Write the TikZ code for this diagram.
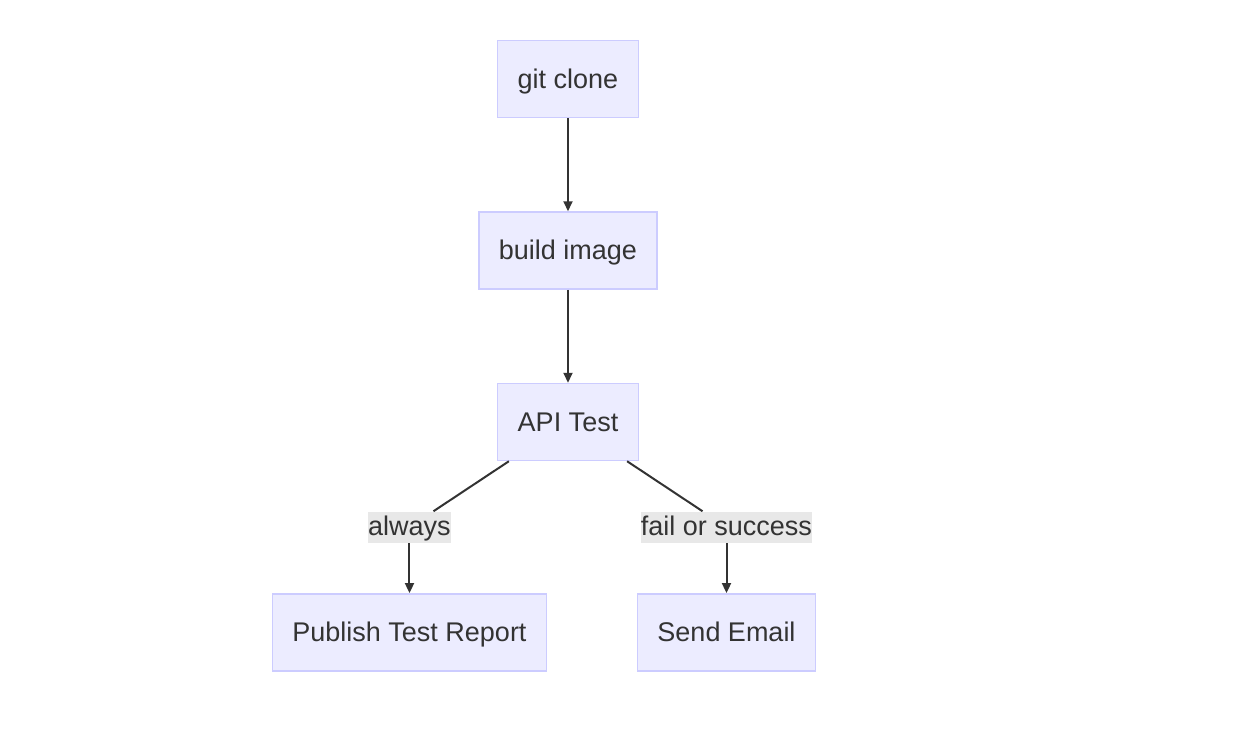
\documentclass[tikz,border=0pt]{standalone}
\usepackage{fontspec}
\setmainfont{Liberation Sans}
\usepackage{xcolor}
\usepackage{tikz}
\usetikzlibrary{arrows.meta, positioning}
\definecolor{nodefill}{HTML}{ECECFF}
\definecolor{nodeline}{HTML}{CCCCFF}
\definecolor{labelfill}{HTML}{E8E8E8}
\definecolor{ink}{HTML}{333333}

\begin{document}
\begin{tikzpicture}[
    box/.style={rectangle, draw=nodeline, fill=nodefill, line width=0.75pt, minimum height=38.5pt, inner xsep=10pt, text height=11pt, text depth=2pt, align=center, text=ink, font=\fontsize{13.5pt}{16pt}\selectfont},
    lbl/.style={rectangle, fill=labelfill, inner sep=0pt, text height=12pt, text depth=3.5pt, text=ink, font=\fontsize{13.5pt}{16pt}\selectfont},
    line/.style={draw=ink, line width=1pt},
    arrow/.style={line, -{Triangle[length=5pt, width=4.5pt]}}
]
\useasboundingbox (-284pt,39.5pt) rectangle (339pt,-325.5pt);

% Pipeline
\node[box] (clone) {git clone};
\node[box, below=46.5pt of clone] (build) {build image};
\node[box, below=46.5pt of build] (api) {API Test};

% Edge labels
\node[lbl, below=25pt of api, xshift=-79.25pt] (always) {always};
\node[lbl, below=25pt of api, xshift=79.25pt] (either) {fail or success};

% Follow-up steps
\node[box, below=25pt of always] (report) {Publish Test Report};
\node[box, below=25pt of either] (email) {Send Email};

% Arrows
\draw[arrow] (clone) -- (build);
\draw[arrow] (build) -- (api);
\draw[line] (api) -- (always);
\draw[arrow] (always) -- (report);
\draw[line] (api) -- (either);
\draw[arrow] (either) -- (email);

\end{tikzpicture}
\end{document}
